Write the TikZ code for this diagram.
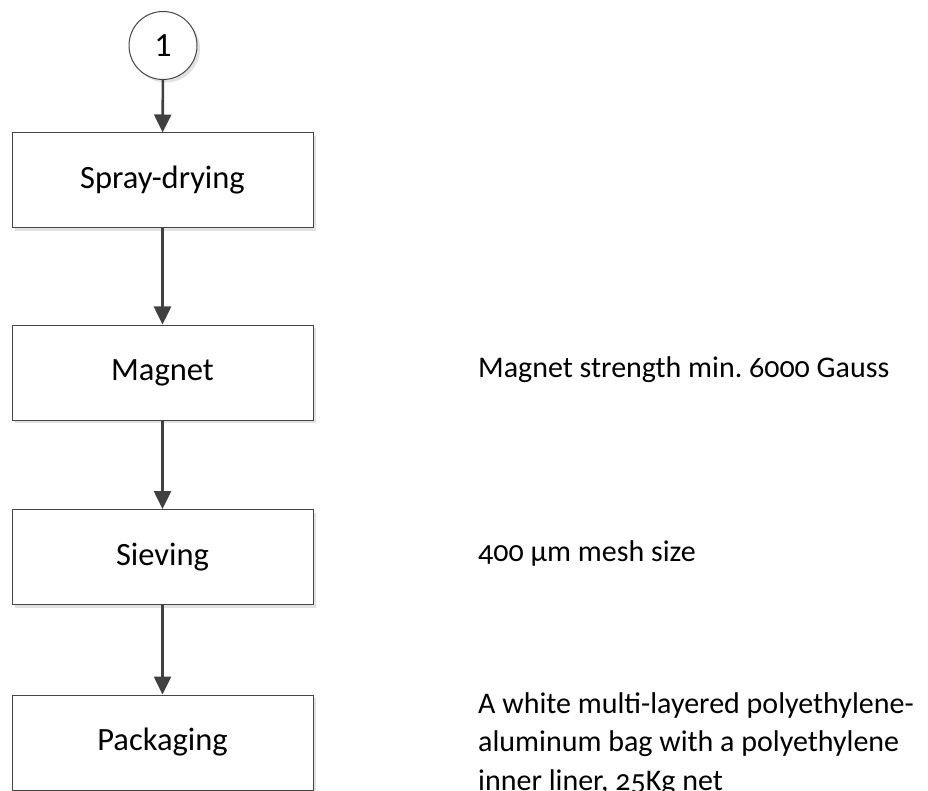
\documentclass[tikz,border=0pt]{standalone}
\usepackage{fontspec}
\setmainfont{Carlito}
\newfontfamily\notefont{Carlito}[Numbers=OldStyle]
\usetikzlibrary{arrows.meta, shadows}
\definecolor{flowLine}{RGB}{64,64,64}
\definecolor{boxEdge}{RGB}{70,70,70}
\definecolor{shadeGray}{RGB}{225,225,225}
\frenchspacing

\begin{document}
\begin{tikzpicture}[x=1pt,y=-1pt,
  stepbox/.style={draw=boxEdge, line width=1pt, fill=white,
    minimum width=301pt, minimum height=95pt,
    font=\fontsize{32.5}{38}\selectfont,
    drop shadow={shadow xshift=3pt, shadow yshift=-3pt, fill=shadeGray, opacity=1}},
  connector/.style={draw=boxEdge, line width=1pt, fill=white, circle,
    minimum size=68pt, inner sep=0pt, font=\fontsize{34}{38}\selectfont,
    drop shadow={shadow xshift=3pt, shadow yshift=-3pt, fill=shadeGray, opacity=1}},
  note/.style={anchor=west, inner sep=0pt, align=left,
    font=\notefont\fontsize{30}{38.5}\selectfont},
  flow/.style={draw=flowLine, line width=2.6pt,
    -{Triangle[length=18pt,width=17pt]}}]
  \useasboundingbox (0,0) rectangle (928,791);

  % process steps
  \node[connector] (start) at (163,45.5) {1};
  \node[stepbox] (spray) at (162.5,180.5) {Spray-drying};
  \node[stepbox] (magnet) at (162.5,372.5) {Magnet};
  \node[stepbox] (sieve) at (162.5,557) {Sieving};
  \node[stepbox] (pack) at (162.5,742.5) {Packaging};

  \draw[flow] (start) -- (spray);
  \draw[flow] (spray) -- (magnet);
  \draw[flow] (magnet) -- (sieve);
  \draw[flow] (sieve) -- (pack);

  % remarks
  \node[note] (magnetNote) at (478,370) {Magnet strength min. 6000 Gauss};
  \node[note] (sieveNote) at (478,553) {400 µm mesh size};
  \node[note, anchor=north west] (packNote) at (478,692)
    {A white multi-layered polyethylene-\\aluminum bag with a polyethylene\\inner liner, 25Kg net};
\end{tikzpicture}
\end{document}
